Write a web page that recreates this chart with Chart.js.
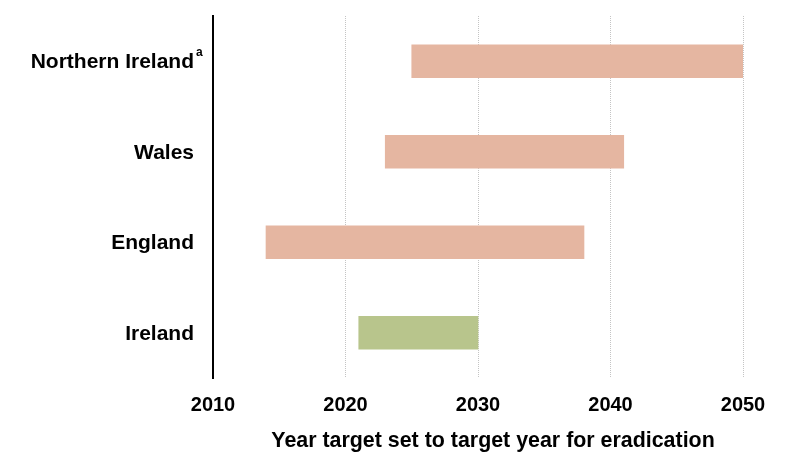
<!DOCTYPE html>
<html>
<head>
<meta charset="utf-8">
<style>
  html, body { margin: 0; padding: 0; background: #ffffff; }
  #wrap { width: 795px; height: 453px; position: relative; }
</style>
<script src="https://cdn.jsdelivr.net/npm/chart.js@4/dist/chart.umd.min.js"></script>
</head>
<body>
<div id="wrap"><canvas id="chart" width="795" height="453"></canvas></div>
<script>
// Eradication target ranges: year the target was set, and the target year
const regions = ['Northern Ireland', 'Wales', 'England', 'Ireland'];
const regionNotes = ['a', '', '', ''];
const yearSet = [2025, 2023, 2014, 2021];
const targetYear = [2050, 2041, 2038, 2030];
const barColors = ['#E5B6A1', '#E5B6A1', '#E5B6A1', '#B8C58C'];
const yearTicks = [2010, 2020, 2030, 2040, 2050];
const axisTitle = 'Year target set to target year for eradication';

const FONT = '"Liberation Sans", Arial, Helvetica, sans-serif';

// Region labels (with footnote markers) drawn right-aligned beside the axis
const regionLabels = {
  id: 'regionLabels',
  afterDraw(chart) {
    const ctx = chart.ctx;
    const y = chart.scales.y;
    const right = y.right - 19;
    ctx.save();
    ctx.fillStyle = '#000';
    ctx.textBaseline = 'middle';
    regions.forEach((name, i) => {
      const py = y.getPixelForValue(i) + 1;
      ctx.font = 'bold 21px ' + FONT;
      ctx.textAlign = 'right';
      ctx.fillText(name, right, py);
      if (regionNotes[i]) {
        ctx.font = 'bold 12px ' + FONT;
        ctx.textAlign = 'left';
        ctx.fillText(regionNotes[i], right + 2, py - 10);
      }
    });
    ctx.restore();
  }
};

// Axis title below the year ticks
const xTitle = {
  id: 'xTitle',
  afterDraw(chart) {
    const ctx = chart.ctx;
    const x = chart.scales.x;
    ctx.save();
    ctx.fillStyle = '#000';
    ctx.font = 'bold 21.4px ' + FONT;
    ctx.textAlign = 'center';
    ctx.textBaseline = 'alphabetic';
    ctx.fillText(axisTitle, (x.left + x.right) / 2 + 15, 447);
    ctx.restore();
  }
};

new Chart(document.getElementById('chart'), {
  type: 'bar',
  data: {
    labels: regions,
    datasets: [{
      data: regions.map((_, i) => [yearSet[i], targetYear[i]]),
      backgroundColor: barColors,
      borderWidth: 0,
      barThickness: 33,
      borderSkipped: false
    }]
  },
  options: {
    indexAxis: 'y',
    responsive: false,
    animation: false,
    events: [],
    layout: { padding: { top: 16, right: 52, left: 0, bottom: 0 } },
    plugins: { legend: { display: false }, tooltip: { enabled: false } },
    scales: {
      x: {
        type: 'linear',
        min: 2010,
        max: 2050,
        afterBuildTicks(scale) { scale.ticks = yearTicks.map(v => ({ value: v })); },
        afterFit(scale) { scale.height = 453 - 378; },
        ticks: {
          color: '#000',
          font: { family: FONT, size: 20, weight: 'bold' },
          padding: 15,
          maxRotation: 0,
          callback: v => String(v)
        },
        grid: {
          drawTicks: false,
          lineWidth: 1,
          color: c => (c.tick && c.tick.value === 2010) ? 'rgba(0,0,0,0)' : '#c4c4c4'
        },
        border: { display: false, dash: [1, 1] }
      },
      y: {
        afterFit(scale) { scale.width = 213; },
        ticks: { display: false },
        grid: { display: false, drawTicks: false },
        border: { display: true, color: '#000', width: 2 }
      }
    }
  },
  plugins: [regionLabels, xTitle]
});
</script>
</body>
</html>
